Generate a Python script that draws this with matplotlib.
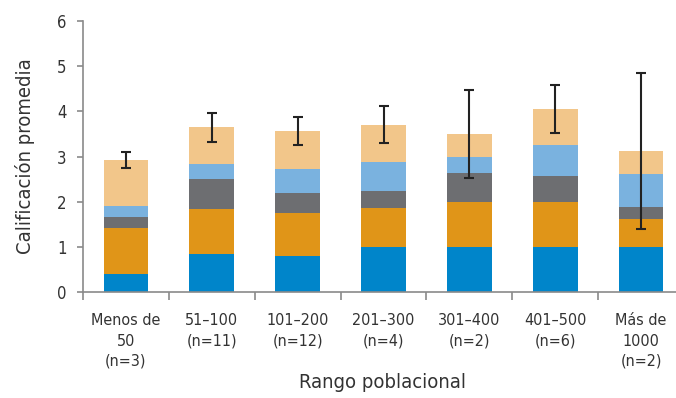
import numpy as np
import matplotlib.pyplot as plt

plt.rcParams['font.family'] = ['DejaVu Sans']
plt.rcParams['font.stretch'] = 'condensed'

# population ranges and stacked segment heights
categories = ["Menos de\n50\n(n=3)", "51\u2013100\n(n=11)", "101\u2013200\n(n=12)",
              "201\u2013300\n(n=4)", "301\u2013400\n(n=2)", "401\u2013500\n(n=6)",
              "Más de\n1000\n(n=2)"]
seg1 = [0.40, 0.85, 0.80, 1.00, 1.00, 1.00, 1.00]
seg2 = [1.02, 0.99, 0.95, 0.86, 0.99, 0.99, 0.62]
seg3 = [0.24, 0.66, 0.44, 0.38, 0.65, 0.58, 0.26]
seg4 = [0.25, 0.33, 0.53, 0.64, 0.35, 0.68, 0.73]
seg5 = [1.01, 0.82, 0.84, 0.82, 0.51, 0.80, 0.51]
err = [0.17, 0.32, 0.31, 0.41, 0.98, 0.53, 1.72]

colors = ["#0085CA", "#E09518", "#6D6E71", "#7AB2DF", "#F2C68A"]
text_col = "#333333"
axis_col = "#8a8a8a"

fig = plt.figure(figsize=(6.76, 3.98), dpi=100)
ax = fig.add_axes([83 / 676, 1 - 292.3 / 398, 601 / 676, (292.3 - 20.7) / 398])

x = np.arange(len(categories))
bottom = np.zeros(len(categories))
for seg, c in zip([seg1, seg2, seg3, seg4, seg5], colors):
    ax.bar(x, seg, 0.52, bottom=bottom, color=c, zorder=2)
    bottom += np.array(seg)

ax.errorbar(x, bottom, yerr=err, fmt="none", ecolor="#222222",
            elinewidth=1.5, capsize=3.5, capthick=1.5, zorder=3)

ax.set_xlim(-0.5, len(categories) - 0.5)
ax.set_ylim(0, 6)
ax.set_yticks(range(7))

# boundary ticks without labels, category labels on minor ticks
ax.set_xticks(np.arange(len(categories) + 1) - 0.5)
ax.set_xticklabels([])
ax.set_xticks(x, minor=True)
ax.set_xticklabels(categories, minor=True, fontsize=11.5, color=text_col,
                   linespacing=1.45)
ax.tick_params(axis="x", which="minor", length=0, pad=15)
ax.tick_params(axis="x", which="major", length=6, color=axis_col, width=1.2)
ax.tick_params(axis="y", length=4, color=axis_col, width=1.2,
               labelsize=12, labelcolor=text_col, pad=8)

for s in ["top", "right"]:
    ax.spines[s].set_visible(False)
for s in ["left", "bottom"]:
    ax.spines[s].set_color(axis_col)
    ax.spines[s].set_linewidth(1.2)

ax.set_ylabel("Calificación promedia", fontsize=14.5, color=text_col, labelpad=16)
fig.text(383 / 676, 1 - 383 / 398, "Rango poblacional", fontsize=14.5,
         color=text_col, ha="center", va="center")

fig.savefig("out.png", dpi=100)
